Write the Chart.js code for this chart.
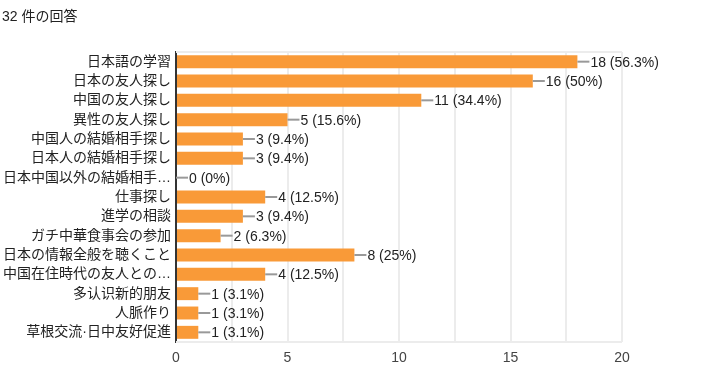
<!DOCTYPE html>
<html>
<head>
<meta charset="utf-8">
<script src="https://cdn.jsdelivr.net/npm/chart.js@4"></script>
<style>
    html, body { margin: 0; padding: 0; background: #fff; }
    #wrap { position: relative; width: 720px; height: 380px; }
    #title {
        position: absolute; left: 2px; top: 5px;
        font: 14px "Liberation Sans", Arial, "Noto Sans CJK JP", sans-serif;
        color: #222;
    }
</style>
</head>
<body>
<div id="wrap">
    <div id="title">32 件の回答</div>
    <canvas id="answersChart" width="720" height="380"></canvas>
</div>
<script>
const categories = [
    '日本語の学習',
    '日本の友人探し',
    '中国の友人探し',
    '異性の友人探し',
    '中国人の結婚相手探し',
    '日本人の結婚相手探し',
    '日本中国以外の結婚相手…',
    '仕事探し',
    '進学の相談',
    'ガチ中華食事会の参加',
    '日本の情報全般を聴くこと',
    '中国在住時代の友人との…',
    '多认识新的朋友',
    '人脈作り',
    '草根交流·日中友好促進'
];
const counts = [18, 16, 11, 5, 3, 3, 0, 4, 3, 2, 8, 4, 1, 1, 1];
const percents = ['56.3', '50', '34.4', '15.6', '9.4', '9.4', '0', '12.5', '9.4', '6.3', '25', '12.5', '3.1', '3.1', '3.1'];
const xTicks = [0, 5, 10, 15, 20];

const fontFamily = '"Liberation Sans", Arial, "Noto Sans CJK JP", sans-serif';

/* leader line + "n (p%)" after each bar */
const valueLabels = {
    id: 'valueLabels',
    afterDatasetsDraw(chart) {
        const c = chart.ctx;
        const meta = chart.getDatasetMeta(0);
        c.save();
        c.font = '14px ' + fontFamily;
        c.textBaseline = 'middle';
        c.fillStyle = '#222';
        meta.data.forEach((bar, i) => {
            const x = bar.x;
            const y = bar.y;
            c.strokeStyle = '#999';
            c.lineWidth = 2;
            c.beginPath();
            c.moveTo(x, y);
            c.lineTo(x + 12, y);
            c.stroke();
            c.fillText(counts[i] + ' (' + percents[i] + '%)', x + 13, y + 1);
        });
        c.restore();
    }
};

/* top / bottom frame of the plot area */
const frame = {
    id: 'frame',
    beforeDatasetsDraw(chart) {
        const { ctx: c, chartArea: a } = chart;
        c.save();
        c.strokeStyle = '#ececec';
        c.lineWidth = 2;
        c.beginPath();
        c.moveTo(a.left, a.top);
        c.lineTo(a.right, a.top);
        c.moveTo(a.left, a.bottom);
        c.lineTo(a.right, a.bottom);
        c.stroke();
        c.restore();
    }
};

new Chart(document.getElementById('answersChart'), {
    type: 'bar',
    data: {
        labels: categories,
        datasets: [{
            data: counts,
            backgroundColor: '#f99a38',
            barPercentage: 0.67,
            categoryPercentage: 1
        }]
    },
    options: {
        indexAxis: 'y',
        responsive: false,
        animation: false,
        layout: { padding: { top: 52, right: 98, left: 0, bottom: 0 } },
        plugins: {
            legend: { display: false },
            tooltip: { enabled: false }
        },
        scales: {
            x: {
                min: xTicks[0],
                max: xTicks[xTicks.length - 1],
                afterFit: (s) => { s.height = 38; },
                ticks: {
                    stepSize: 2.5,
                    autoSkip: false,
                    maxRotation: 0,
                    padding: 8,
                    color: '#444',
                    font: { size: 14, family: fontFamily },
                    callback: (v) => xTicks.includes(v) ? v : ''
                },
                grid: { color: '#ececec', lineWidth: 2, drawTicks: false },
                border: { display: false }
            },
            y: {
                afterFit: (s) => { s.width = 176; },
                ticks: {
                    autoSkip: false,
                    padding: 5,
                    color: '#222',
                    font: { size: 14, family: fontFamily }
                },
                grid: { display: false, drawTicks: false },
                border: { display: true, color: '#333', width: 2 }
            }
        }
    },
    plugins: [frame, valueLabels]
});
</script>
</body>
</html>
